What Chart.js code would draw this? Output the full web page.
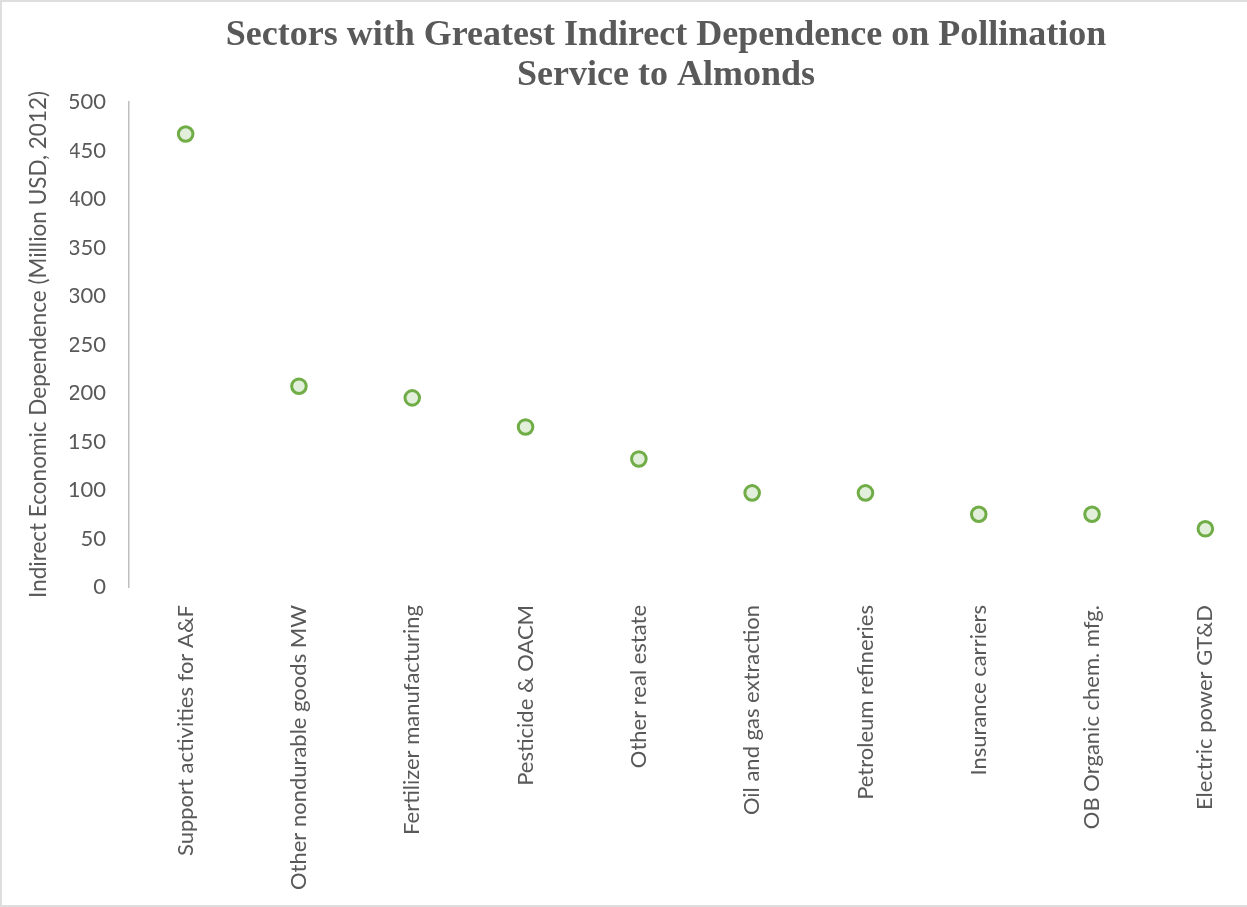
<!DOCTYPE html>
<html>
<head>
<meta charset="utf-8">
<script src="https://cdn.jsdelivr.net/npm/chart.js@4/dist/chart.umd.min.js"></script>
<style>
  html, body { margin: 0; padding: 0; background: #ffffff; overflow: hidden; }
  #frame { position: relative; width: 1247px; height: 907px; overflow: hidden; background: #ffffff; }
  #chart { position: absolute; left: 0; top: 0; }
  #edge { position: absolute; left: 0; top: 0; width: 1300px; height: 907px;
          box-sizing: border-box; border: 2px solid #dedede; pointer-events: none; }
</style>
</head>
<body>
<div id="frame">
  <canvas id="chart" width="1332" height="907"></canvas>
  <div id="edge"></div>
</div>
<script>
const titleLines = ['Sectors with Greatest Indirect Dependence on Pollination', 'Service to Almonds'];
const yAxisTitle = 'Indirect Economic Dependence (Million USD, 2012)';
const sectors = [
  'Support activities for A&F',
  'Other nondurable goods MW',
  'Fertilizer manufacturing',
  'Pesticide & OACM',
  'Other real estate',
  'Oil and gas extraction',
  'Petroleum refineries',
  'Insurance carriers',
  'OB Organic chem. mfg.',
  'Electric power GT&D'
];
const dependence = [467, 207, 195, 165, 132, 97, 97, 75, 75, 60];
const yMin = 0, yMax = 500, yStep = 50;

const grey = '#595959';
const labelFont = 'Lato, "Open Sans", sans-serif';

new Chart(document.getElementById('chart'), {
  type: 'line',
  data: {
    labels: sectors,
    datasets: [{
      data: dependence,
      showLine: false,
      pointStyle: 'circle',
      pointRadius: 7.3,
      pointHoverRadius: 7.3,
      pointBorderWidth: 3,
      pointBackgroundColor: '#E2EFDA',
      pointBorderColor: '#70AD47'
    }]
  },
  options: {
    responsive: false,
    animation: false,
    devicePixelRatio: 1,
    // left padding centres the title over the wider frame; the y scale box fills the rest
    layout: { padding: { left: 70, right: 70, top: 0, bottom: 0 } },
    plugins: {
      legend: { display: false },
      tooltip: { enabled: false },
      title: {
        display: true,
        text: titleLines,
        color: grey,
        font: { family: '"Liberation Serif", "DejaVu Serif", serif', size: 36, weight: 'bold', lineHeight: 40 / 36 },
        padding: { top: 16, bottom: 6 }
      }
    },
    scales: {
      x: {
        type: 'category',
        offset: true,
        grid: { display: false, drawTicks: false },
        border: { display: false },
        ticks: {
          autoSkip: false,
          minRotation: 90,
          maxRotation: 90,
          padding: 18,
          color: grey,
          font: { family: labelFont, size: 22 }
        },
        afterFit(scale) { scale.height = 320; }
      },
      y: {
        min: yMin,
        max: yMax,
        grid: { display: false, drawTicks: false },
        border: { display: true, color: '#bfbfbf', width: 1.5 },
        ticks: {
          stepSize: yStep,
          padding: 23,
          color: grey,
          font: { family: labelFont, size: 22 }
        },
        title: {
          display: true,
          text: yAxisTitle,
          color: grey,
          font: { family: labelFont, size: 22.5, lineHeight: 1.2 },
          padding: { top: -45, bottom: 0 }
        },
        afterFit(scale) { scale.width = 59; }
      }
    }
  }
});
</script>
</body>
</html>
